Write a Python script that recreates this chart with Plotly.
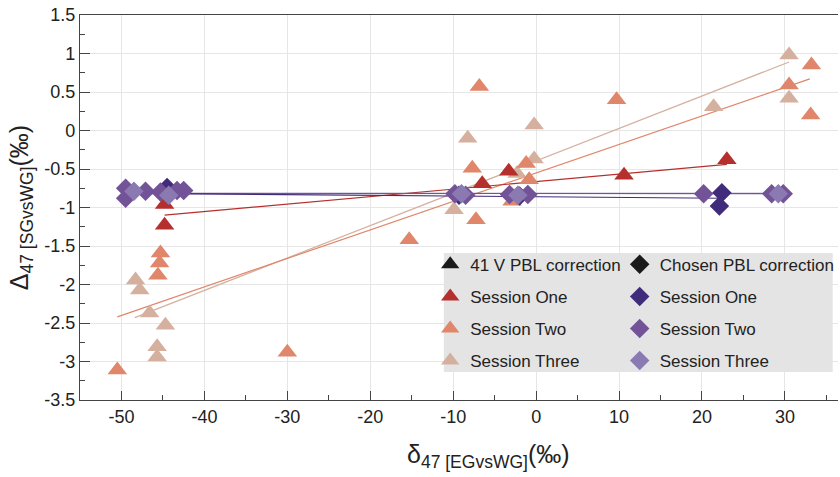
import plotly.graph_objects as go

# ---------------- data ----------------
# 41 V PBL correction (triangles)
t1_x = [-44.8, -44.8, -6.5, -3.3, 10.6, 23.0]
t1_y = [-0.96, -1.23, -0.69, -0.53, -0.58, -0.38]
t2_x = [-50.5, -45.3, -45.4, -45.6, -30.0, -15.3, -7.7, -7.25, -6.85, -2.9, -1.2, -0.84, 9.7, 30.5, 33.2, 33.1]
t2_y = [-3.11, -1.59, -1.72, -1.88, -2.88, -1.42, -0.49, -1.16, 0.57, -0.92, -0.43, -0.64, 0.40, 0.59, 0.85, 0.20]
t3_x = [-48.3, -47.8, -46.6, -44.7, -45.7, -45.7, -9.9, -8.25, -2.3, -0.24, -0.24, 21.4, 30.5, 30.5]
t3_y = [-1.94, -2.07, -2.37, -2.53, -2.81, -2.94, -1.03, -0.10, -0.56, 0.07, -0.37, 0.31, 0.98, 0.42]

# Chosen PBL correction (diamonds)
d1_x = [-44.5, -9.3, -2.0, 22.4, 22.1]
d1_y = [-0.74, -0.84, -0.85, -0.81, -0.98]
d2_x = [-49.5, -49.5, -47.1, -45.3, -43.3, -42.5, -9.8, -8.5, -3.2, -1.0, 20.2, 28.4, 29.8]
d2_y = [-0.75, -0.88, -0.79, -0.80, -0.78, -0.78, -0.82, -0.84, -0.83, -0.83, -0.82, -0.82, -0.82]
d3_x = [-48.5, -44.3, -9.0, -2.2, 29.2]
d3_y = [-0.79, -0.84, -0.82, -0.84, -0.82]

# regression lines (end points)
fit_t1_x = [-44.8, 23.0]
fit_t1_y = [-1.10, -0.44]
fit_t2_x = [-50.5, 33.0]
fit_t2_y = [-2.42, 0.67]
fit_t3_x = [-48.4, 30.5]
fit_t3_y = [-2.43, 0.89]
fit_d1_x = [-44.5, 22.4]
fit_d1_y = [-0.82, -0.88]
fit_d2_x = [-49.5, 29.8]
fit_d2_y = [-0.815, -0.82]
fit_d3_x = [-48.5, 29.2]
fit_d3_y = [-0.82, -0.815]

x_tickvals = [-50, -40, -30, -20, -10, 0, 10, 20, 30]
x_ticktext = ["-50", "-40", "-30", "-20", "-10", "0", "10", "20", "30"]
y_tickvals = [1.5, 1, 0.5, 0, -0.5, -1, -1.5, -2, -2.5, -3, -3.5]
y_ticktext = ["1.5", "1", "0.5", "0", "-0.5", "-1", "-1.5", "-2", "-2.5", "-3", "-3.5"]

# ---------------- style ----------------
C_T1, C_T2, C_T3 = "#b5302c", "#e0866a", "#d5b09f"
C_D1, C_D2, C_D3 = "#412c7c", "#735397", "#8b79b1"
FONT = "Liberation Sans, Arial, sans-serif"

fig = go.Figure()

# fit lines (under markers)
for fx, fy, c in [(fit_t3_x, fit_t3_y, C_T3), (fit_t2_x, fit_t2_y, C_T2), (fit_t1_x, fit_t1_y, C_T1),
                  (fit_d3_x, fit_d3_y, C_D3), (fit_d2_x, fit_d2_y, C_D2), (fit_d1_x, fit_d1_y, C_D1)]:
    fig.add_trace(go.Scatter(x=fx, y=fy, mode="lines", line=dict(color=c, width=1.2),
                             showlegend=False, hoverinfo="skip"))

TRI = 17
DIA = 15

# legend headers
fig.add_trace(go.Scatter(x=[None], y=[None], mode="markers", name="41 V PBL correction",
                         marker=dict(symbol="triangle-up", size=TRI, color="#1a1a1a"),
                         legend="legend", legendgroup="a0", legendrank=1))
fig.add_trace(go.Scatter(x=[None], y=[None], mode="markers", name="Chosen PBL correction",
                         marker=dict(symbol="diamond", size=DIA, color="#1a1a1a"),
                         legend="legend2", legendgroup="b0", legendrank=1))

for i, (xs, ys, c, n) in enumerate([(t3_x, t3_y, C_T3, "Session Three"), (t2_x, t2_y, C_T2, "Session Two"),
                                    (t1_x, t1_y, C_T1, "Session One")]):
    fig.add_trace(go.Scatter(x=xs, y=ys, mode="markers", name=n,
                             marker=dict(symbol="triangle-up", size=TRI, color=c),
                             legend="legend", legendgroup="a" + n, legendrank=10 - i))

for i, (xs, ys, c, n) in enumerate([(d1_x, d1_y, C_D1, "Session One"), (d2_x, d2_y, C_D2, "Session Two"),
                                    (d3_x, d3_y, C_D3, "Session Three")]):
    fig.add_trace(go.Scatter(x=xs, y=ys, mode="markers", name=n,
                             marker=dict(symbol="diamond", size=DIA, color=c),
                             legend="legend2", legendgroup="b" + n, legendrank=2 + i))

axis_common = dict(
    showline=True, linecolor="#444", linewidth=1.3,
    ticks="inside", tickcolor="#444", tickwidth=1.2,
    showgrid=True, gridcolor="#e6e6e6", gridwidth=1,
    zeroline=False,
    tickfont=dict(family=FONT, size=18, color="#222"),
)

fig.update_layout(
    width=840, height=477,
    margin=dict(l=80, r=0, t=15, b=77),
    paper_bgcolor="white", plot_bgcolor="white",
    font=dict(family=FONT, color="#222"),
    xaxis=dict(range=[-55, 36.4], tickvals=x_tickvals, ticktext=x_ticktext, ticklen=9,
               mirror=True,
               minor=dict(dtick=5, tick0=0, ticks="inside", ticklen=5, tickcolor="#444", showgrid=False),
               **axis_common),
    yaxis=dict(range=[-3.5, 1.5], tickvals=y_tickvals, ticktext=y_ticktext, ticklen=10,
               minor=dict(dtick=0.25, tick0=0, ticks="inside", ticklen=5, tickcolor="#444", showgrid=False),
               title=dict(text="Δ<sub>47 [SGvsWG]</sub>(‰)", font=dict(family=FONT, size=25, color="#222"),
                          standoff=8),
               **axis_common),
    legend=dict(x=0.462, y=0.398, xanchor="left", yanchor="top", bgcolor="rgba(0,0,0,0)",
                font=dict(family=FONT, size=17, color="#222"), tracegroupgap=7, itemsizing="trace"),
    legend2=dict(x=0.712, y=0.398, xanchor="left", yanchor="top", bgcolor="rgba(0,0,0,0)",
                 font=dict(family=FONT, size=17, color="#222"), tracegroupgap=7, itemsizing="trace"),
    shapes=[dict(type="rect", xref="paper", yref="paper", x0=0.480, x1=0.993, y0=0.0727, y1=0.382,
                 fillcolor="#e4e4e4", line=dict(width=0), layer="above")],
    annotations=[dict(text="δ<sub>47 [EGvsWG]</sub>(‰)", xref="paper", yref="paper",
                      x=0.539, y=-0.145, xanchor="center", yanchor="middle", showarrow=False,
                      font=dict(family=FONT, size=25, color="#222"))],
)

fig.write_html("out.html")
